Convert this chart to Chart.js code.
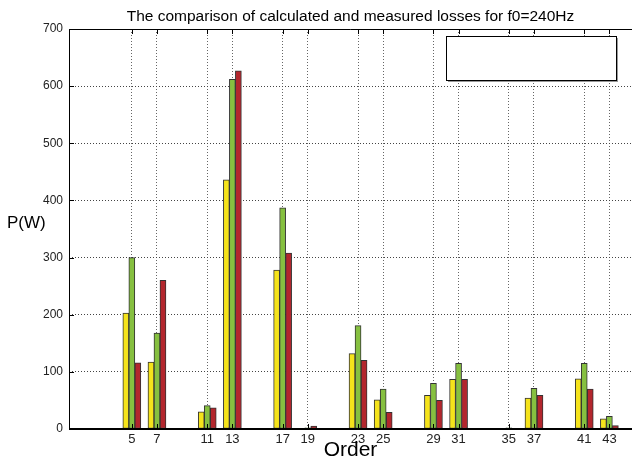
<!DOCTYPE html>
<html>
<head>
<meta charset="utf-8">
<script src="https://cdn.jsdelivr.net/npm/chart.js@4.4.1/dist/chart.umd.min.js"></script>
<style>
  html, body { margin: 0; padding: 0; background: #fff; }
  #wrap { width: 632px; height: 459px; }
</style>
</head>
<body>
<div id="wrap"><canvas id="c"></canvas></div>
<script>
// harmonic orders and losses (W)
const orders     = [5, 7, 11, 13, 17, 19, 23, 25, 29, 31, 35, 37, 41, 43];
const calcA      = [203, 117, 30, 436, 278, 1, 132, 51, 59, 87, 1, 54, 88, 18];
const measured   = [300, 168, 41, 612, 387, 2, 181, 70, 80, 115, 2, 71, 115, 22];
const calcB      = [116, 260, 37, 627, 308, 5, 120, 29, 50, 87, 1, 59, 70, 6];
const yTicks     = [0, 100, 200, 300, 400, 500, 600, 700];

const TITLE  = 'The comparison of calculated and measured losses for f0=240Hz';
const FONT   = '"Liberation Sans", Arial, sans-serif';

const toPts = vals => vals.map((v, i) => ({ x: orders[i], y: v }));

// frame, labels, legend box (matlab style)
const decor = {
    id: 'decor',
    afterDraw(chart) {
        const { ctx, chartArea: a, scales } = chart;
        ctx.save();
        ctx.strokeStyle = '#000';
        ctx.lineWidth = 1;
        ctx.beginPath();
        ctx.moveTo(a.left + 0.5, a.bottom);
        ctx.lineTo(a.left + 0.5, a.top + 0.5);
        ctx.lineTo(a.right, a.top + 0.5);
        ctx.stroke();
        ctx.lineWidth = 2;
        ctx.beginPath();
        ctx.moveTo(a.left, a.bottom);
        ctx.lineTo(a.right, a.bottom);
        ctx.stroke();

        // inward tick marks
        ctx.lineWidth = 1;
        ctx.beginPath();
        orders.forEach(o => {
            const x = Math.round(scales.x.getPixelForValue(o)) + 0.5;
            ctx.moveTo(x, a.top); ctx.lineTo(x, a.top + 5);
            ctx.moveTo(x, a.bottom); ctx.lineTo(x, a.bottom - 5);
        });
        yTicks.forEach(t => {
            const y = Math.round(scales.y.getPixelForValue(t)) + 0.5;
            ctx.moveTo(a.left, y); ctx.lineTo(a.left + 5, y);
        });
        ctx.stroke();

        // empty legend box
        ctx.fillStyle = '#999';
        ctx.fillRect(448, 38, 170, 44);
        ctx.fillStyle = '#fff';
        ctx.fillRect(446, 36, 170, 44);
        ctx.strokeStyle = '#000';
        ctx.strokeRect(446.5, 36.5, 170, 44);

        ctx.fillStyle = '#000';
        ctx.textAlign = 'center';
        ctx.textBaseline = 'middle';
        ctx.font = '15.5px ' + FONT;
        ctx.fillText(TITLE, (a.left + a.right) / 2, 17);
        ctx.font = '21px ' + FONT;
        ctx.fillText('Order', (a.left + a.right) / 2, 450);
        ctx.textAlign = 'left';
        ctx.font = '17px ' + FONT;
        ctx.fillText('P(W)', 7, 223);
        ctx.restore();
    }
};

const barStyle = { borderColor: '#333', borderWidth: 1, barThickness: 6, borderSkipped: false };

new Chart(document.getElementById('c'), {
    type: 'bar',
    data: {
        datasets: [
            { label: 'calc 1',   data: toPts(calcA),    backgroundColor: '#f5e31b', ...barStyle },
            { label: 'measured', data: toPts(measured), backgroundColor: '#86c040', ...barStyle },
            { label: 'calc 2',   data: toPts(calcB),    backgroundColor: '#b3262d', ...barStyle },
        ],
    },
    options: {
        responsive: true,
        maintainAspectRatio: false,
        animation: false,
        layout: { padding: { top: 29, right: 0, left: 0, bottom: 0 } },
        plugins: { legend: { display: false }, tooltip: { enabled: false } },
        scales: {
            x: {
                type: 'linear',
                min: 0,
                max: 44.8,
                offset: false,
                afterBuildTicks: s => { s.ticks = orders.map(v => ({ value: v })); },
                afterFit: s => { s.height = 30; },
                grid: { color: '#666', lineWidth: 1, offset: false, drawTicks: false },
                border: { display: false, dash: [1, 2] },
                ticks: { color: '#222', font: { family: FONT, size: 13 }, padding: 3, maxRotation: 0, autoSkip: false },
            },
            y: {
                min: 0,
                max: 700,
                afterBuildTicks: s => { s.ticks = yTicks.map(v => ({ value: v })); },
                afterFit: s => { s.width = 69; },
                grid: { color: '#444', lineWidth: 1, drawTicks: false },
                border: { display: false, dash: [1, 2] },
                ticks: { color: '#222', font: { family: FONT, size: 12 }, padding: 6 },
            },
        },
    },
    plugins: [decor],
});
</script>
</body>
</html>
